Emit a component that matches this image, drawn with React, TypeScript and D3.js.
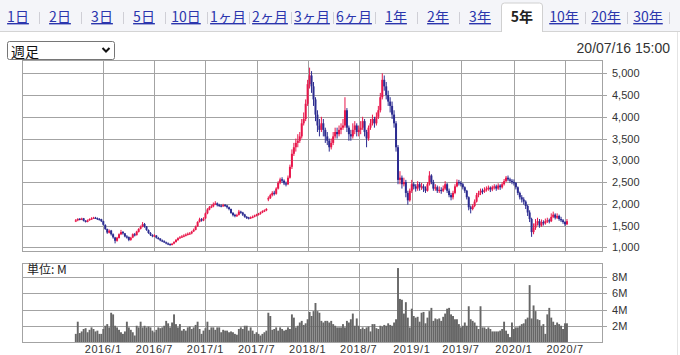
import React from 'react';
import * as d3 from 'd3';

// period tabs
const tabLabels = ['1日', '2日', '3日', '5日', '10日', '1ヶ月', '2ヶ月', '3ヶ月', '6ヶ月', '1年', '2年', '3年', '5年', '10年', '20年', '30年'];
const activeTab = '5年';
const spanLabel = '週足';
const stamp = '20/07/16 15:00';

// weekly candles, first week starts 2015-09-28
const firstWeek = new Date(2015, 8, 28);
const weekOpen = [
  1600, 1620, 1655, 1640, 1665, 1610, 1585, 1625, 1650, 1665,
  1680, 1670, 1650, 1645, 1600, 1510, 1420, 1335, 1385, 1300,
  1225, 1150, 1215, 1300, 1355, 1320, 1250, 1235, 1170, 1225,
  1300, 1280, 1355, 1425, 1470, 1535, 1480, 1395, 1330, 1285,
  1255, 1270, 1215, 1200, 1160, 1140, 1115, 1090, 1075, 1060,
  1085, 1120, 1165, 1215, 1230, 1250, 1265, 1295, 1310, 1320,
  1365, 1400, 1480, 1585, 1645, 1615, 1665, 1780, 1865, 1925,
  1940, 1990, 2010, 1975, 1960, 1950, 1975, 1960, 1920, 1880,
  1790, 1745, 1715, 1745, 1820, 1800, 1755, 1700, 1685, 1665,
  1695, 1700, 1735, 1750, 1770, 1800, 1835, 1850, 2100, 2130,
  2200, 2255, 2230, 2350, 2480, 2565, 2530, 2470, 2450, 2600,
  2850, 3150, 3300, 3400, 3450, 3550, 3850, 3950, 4300, 4750,
  4950, 4700, 4400, 4050, 3800, 3700, 3850, 3700, 3550, 3450,
  3300, 3400, 3550, 3650, 3600, 3700, 3750, 3800, 4150, 3750,
  3600, 3550, 3700, 3800, 3650, 3700, 3750, 3900, 3650, 3500,
  3750, 3850, 3950, 3850, 4000, 4150, 4450, 4850, 4700, 4500,
  4350, 4250, 4050, 3850, 3300, 2550, 2600, 2450, 2500, 2250,
  2080, 2300, 2450, 2400, 2350, 2450, 2380, 2400, 2350, 2300,
  2450, 2650, 2500, 2350, 2380, 2300, 2320, 2300, 2350, 2450,
  2300, 2200, 2150, 2250, 2400, 2500, 2480, 2450, 2380, 2300,
  2150, 1920, 1880, 1950, 2050, 2200, 2250, 2300, 2280, 2320,
  2350, 2370, 2330, 2380, 2400, 2350, 2420, 2380, 2450, 2520,
  2600, 2560, 2530, 2500, 2480, 2380, 2250, 2150, 2100, 2050,
  1950, 1800, 1650, 1350, 1450, 1550, 1600, 1500, 1580, 1550,
  1600, 1620, 1600, 1700, 1750, 1680, 1720, 1650, 1620, 1580,
  1530,
];
const weekHigh = [
  1650, 1670, 1670, 1680, 1675, 1625, 1640, 1665, 1690, 1700,
  1700, 1685, 1670, 1655, 1610, 1530, 1430, 1410, 1400, 1320,
  1240, 1240, 1320, 1400, 1370, 1330, 1280, 1250, 1240, 1320,
  1330, 1380, 1440, 1500, 1580, 1560, 1490, 1410, 1350, 1300,
  1300, 1280, 1240, 1210, 1180, 1160, 1130, 1110, 1090, 1100,
  1140, 1190, 1230, 1260, 1280, 1300, 1320, 1340, 1350, 1380,
  1430, 1500, 1600, 1680, 1670, 1690, 1800, 1900, 1950, 1980,
  2030, 2060, 2030, 2000, 1990, 2000, 1995, 1975, 1935, 1890,
  1810, 1770, 1770, 1860, 1840, 1815, 1770, 1720, 1700, 1710,
  1730, 1750, 1770, 1790, 1820, 1850, 1870, 1900, 2170, 2230,
  2290, 2300, 2380, 2520, 2600, 2610, 2560, 2510, 2650, 2900,
  3250, 3400, 3500, 3600, 3650, 3950, 4100, 4400, 4850, 5130,
  5050, 4800, 4450, 4150, 3950, 4000, 3950, 3750, 3650, 3500,
  3500, 3650, 3750, 3750, 3800, 3850, 3950, 4450, 4200, 3800,
  3700, 3850, 3900, 3850, 3800, 3900, 4000, 3950, 3700, 3800,
  3950, 4050, 4000, 4100, 4250, 4550, 5000, 4950, 4800, 4600,
  4450, 4350, 4150, 3900, 3350, 2750, 2650, 2600, 2550, 2300,
  2350, 2550, 2500, 2450, 2520, 2500, 2480, 2450, 2400, 2500,
  2750, 2680, 2550, 2450, 2420, 2400, 2380, 2420, 2520, 2480,
  2350, 2250, 2300, 2450, 2560, 2550, 2520, 2480, 2400, 2320,
  2170, 1960, 1990, 2100, 2250, 2300, 2350, 2350, 2380, 2400,
  2420, 2400, 2420, 2450, 2440, 2470, 2450, 2500, 2570, 2640,
  2650, 2600, 2570, 2560, 2500, 2400, 2280, 2200, 2150, 2080,
  1980, 1850, 1680, 1550, 1650, 1680, 1650, 1640, 1620, 1660,
  1680, 1660, 1780, 1820, 1780, 1780, 1750, 1700, 1650, 1600,
  1650,
];
const weekLow = [
  1580, 1600, 1620, 1625, 1595, 1570, 1575, 1610, 1640, 1650,
  1655, 1630, 1620, 1580, 1500, 1400, 1310, 1320, 1270, 1200,
  1090, 1130, 1200, 1280, 1290, 1230, 1200, 1140, 1150, 1210,
  1250, 1270, 1340, 1410, 1460, 1450, 1380, 1310, 1260, 1230,
  1240, 1200, 1180, 1140, 1120, 1100, 1070, 1050, 1040, 1045,
  1070, 1110, 1150, 1200, 1215, 1230, 1250, 1270, 1290, 1300,
  1350, 1390, 1470, 1570, 1590, 1600, 1650, 1760, 1850, 1900,
  1920, 1970, 1940, 1930, 1920, 1930, 1930, 1890, 1850, 1770,
  1710, 1690, 1700, 1730, 1770, 1720, 1680, 1650, 1640, 1650,
  1670, 1690, 1710, 1730, 1750, 1785, 1810, 1830, 2060, 2110,
  2170, 2190, 2210, 2330, 2450, 2480, 2430, 2400, 2430, 2580,
  2800, 3100, 3200, 3300, 3400, 3500, 3800, 3900, 4250, 4650,
  4550, 4250, 3900, 3650, 3550, 3650, 3550, 3400, 3350, 3200,
  3250, 3350, 3500, 3500, 3550, 3600, 3700, 3750, 3650, 3450,
  3450, 3500, 3600, 3550, 3550, 3600, 3700, 3550, 3300, 3450,
  3700, 3800, 3750, 3800, 3950, 4100, 4400, 4600, 4400, 4250,
  4100, 3950, 3750, 3200, 2450, 2450, 2350, 2400, 2150, 1980,
  2050, 2250, 2330, 2280, 2300, 2300, 2320, 2270, 2250, 2280,
  2420, 2450, 2300, 2300, 2250, 2250, 2230, 2270, 2320, 2250,
  2150, 2080, 2100, 2220, 2380, 2420, 2400, 2330, 2250, 2100,
  1850, 1780, 1850, 1920, 2030, 2150, 2200, 2220, 2250, 2280,
  2300, 2270, 2290, 2330, 2300, 2320, 2320, 2350, 2420, 2500,
  2520, 2480, 2450, 2420, 2330, 2200, 2100, 2030, 1980, 1880,
  1720, 1580, 1240, 1300, 1400, 1500, 1450, 1470, 1500, 1520,
  1560, 1550, 1580, 1670, 1640, 1650, 1610, 1580, 1540, 1490,
  1510,
];
const weekClose = [
  1620, 1650, 1640, 1660, 1610, 1590, 1620, 1650, 1660, 1680,
  1670, 1650, 1640, 1600, 1520, 1420, 1340, 1380, 1300, 1230,
  1150, 1220, 1300, 1350, 1320, 1250, 1230, 1170, 1220, 1300,
  1280, 1360, 1420, 1470, 1530, 1480, 1400, 1330, 1290, 1260,
  1270, 1220, 1200, 1160, 1140, 1120, 1090, 1070, 1060, 1080,
  1120, 1170, 1210, 1230, 1250, 1270, 1290, 1310, 1320, 1360,
  1400, 1480, 1580, 1640, 1620, 1660, 1780, 1870, 1920, 1940,
  1990, 2010, 1970, 1960, 1950, 1970, 1960, 1920, 1880, 1790,
  1740, 1720, 1740, 1820, 1800, 1750, 1700, 1680, 1670, 1690,
  1700, 1730, 1750, 1770, 1800, 1830, 1850, 1880, 2130, 2200,
  2250, 2230, 2350, 2480, 2560, 2530, 2470, 2450, 2600, 2850,
  3150, 3300, 3400, 3450, 3550, 3850, 3950, 4300, 4750, 4950,
  4700, 4400, 4050, 3800, 3700, 3850, 3700, 3550, 3450, 3300,
  3400, 3550, 3650, 3600, 3700, 3750, 3800, 4150, 3750, 3600,
  3550, 3700, 3800, 3650, 3700, 3750, 3900, 3650, 3500, 3750,
  3850, 3950, 3850, 4000, 4150, 4450, 4850, 4700, 4500, 4350,
  4250, 4050, 3850, 3300, 2550, 2600, 2450, 2500, 2250, 2080,
  2300, 2450, 2400, 2350, 2450, 2380, 2400, 2350, 2300, 2450,
  2650, 2500, 2350, 2380, 2300, 2320, 2300, 2350, 2450, 2300,
  2200, 2150, 2250, 2400, 2500, 2480, 2450, 2380, 2300, 2150,
  1920, 1880, 1950, 2050, 2200, 2250, 2300, 2280, 2320, 2350,
  2370, 2330, 2380, 2400, 2350, 2420, 2380, 2450, 2520, 2600,
  2560, 2530, 2500, 2480, 2380, 2250, 2150, 2100, 2050, 1950,
  1800, 1650, 1350, 1450, 1550, 1600, 1500, 1580, 1550, 1600,
  1620, 1600, 1700, 1750, 1680, 1720, 1650, 1620, 1580, 1530,
  1600,
];
// weekly volume, millions of shares
const weekVolume = [
  1.0, 2.5, 1.1, 1.3, 1.6, 1.7, 1.2, 1.5, 1.8, 1.6,
  1.3, 1.4, 1.0, 1.0, 1.6, 2.0, 2.2, 1.8, 3.6, 3.4,
  2.0, 1.8, 1.5, 1.2, 1.0, 1.3, 2.5, 1.8, 1.5, 1.2,
  0.8, 2.0, 1.8, 2.5, 1.8, 2.0, 1.8, 1.9, 1.8, 1.4,
  1.2, 1.5, 1.8, 1.7, 1.8, 2.0, 2.6, 2.3, 1.8, 2.4,
  3.4, 2.2, 1.8, 2.2, 1.4, 1.6, 1.4, 1.8, 1.9, 1.6,
  1.8, 2.1, 2.5, 1.6, 1.0, 1.4, 1.7, 2.5, 1.5, 1.8,
  1.8, 1.5, 1.8, 1.8, 1.2, 1.5, 1.4, 1.4, 1.2, 1.3,
  1.2, 1.0, 0.9, 1.6, 1.8, 1.6, 2.0, 2.0, 1.4, 1.8,
  1.4, 1.0, 1.2, 1.0, 0.8, 1.0, 1.2, 1.4, 3.6, 3.2,
  1.5, 1.6, 1.8, 1.4, 1.8, 1.6, 1.4, 1.5, 1.8, 1.6,
  3.4, 3.0, 1.8, 2.0, 2.4, 2.6, 2.1, 2.3, 2.8, 3.7,
  3.2, 3.8, 4.8, 3.8, 3.6, 2.6, 2.4, 2.6, 2.6, 2.4,
  2.6, 2.2, 2.0, 1.8, 1.8, 1.8, 2.2, 1.8, 2.6, 2.4,
  2.8, 3.5, 2.0, 2.9, 2.0, 1.6, 1.8, 1.6, 1.8, 1.9,
  1.3, 2.2, 2.2, 1.7, 1.6, 2.0, 1.9, 2.1, 2.0, 2.3,
  2.1, 2.0, 2.4, 2.8, 9.1, 5.3, 5.2, 3.5, 4.9, 3.0,
  1.8, 4.1, 3.2, 3.0, 3.1, 2.5, 3.6, 3.7, 2.3, 3.0,
  3.8, 4.2, 2.6, 2.9, 2.8, 2.9, 2.6, 3.1, 3.5, 4.1,
  4.2, 3.4, 3.2, 2.8, 2.8, 2.2, 1.8, 2.0, 2.4, 2.0,
  4.4, 2.8, 2.6, 2.4, 2.0, 1.6, 4.4, 1.8, 1.8, 1.6,
  1.8, 1.6, 1.3, 1.3, 1.3, 1.3, 1.4, 1.6, 2.5, 1.4,
  1.0, 0.6, 2.4, 1.6, 1.8, 1.8, 2.0, 2.2, 2.3, 2.8,
  3.0, 7.0, 2.9, 4.5, 3.8, 2.8, 2.7, 2.0, 2.2, 1.0,
  3.4, 4.2, 3.0, 2.5, 2.1, 2.4, 2.2, 2.0, 1.6, 2.3,
  2.3,
];

// axes
const priceTicks = [1000, 1500, 2000, 2500, 3000, 3500, 4000, 4500, 5000];
const volumeTicks = [2, 4, 6, 8];
const dateTicks = [
  new Date(2016, 0, 4), new Date(2016, 6, 4), new Date(2017, 0, 2), new Date(2017, 6, 3),
  new Date(2018, 0, 1), new Date(2018, 6, 2), new Date(2019, 0, 7), new Date(2019, 6, 1),
  new Date(2020, 0, 6), new Date(2020, 6, 6),
];
const dateLabels = ['2016/1', '2016/7', '2017/1', '2017/7', '2018/1', '2018/7', '2019/1', '2019/7', '2020/1', '2020/7'];

const UP = '#e8174b';
const DOWN = '#2b2b90';
const GRID = '#a3a3a3';
const LINK = '#2b35ad';
const JP = '"Noto Sans CJK JP", "Noto Sans", sans-serif';
const NUM = '"Liberation Sans", Arial, sans-serif';

const App = () => {
  const width = 680, height = 355;
  const plot = { left: 22, right: 602 };
  const pTop = 60, pBottom = 251;
  const vTop = 263, vBottom = 342;

  const x = d3.scaleTime()
    .domain([dateTicks[0], dateTicks[dateTicks.length - 1]])
    .range([103.3, 565]);
  const yP = d3.scaleLinear().domain([1000, 5000]).range([247.3, 73.3]);
  const yV = d3.scaleLinear().domain([0, 8]).range([vBottom, 277]);
  const fmt = d3.format(',');

  const tabX = d3.scaleBand().domain(tabLabels).range([-3, 669]);
  const bw = tabX.bandwidth();
  const ax = tabX(activeTab);

  const n = Math.min(weekOpen.length, weekHigh.length, weekLow.length, weekClose.length, weekVolume.length);
  const weeks = d3.range(n).map(i => ({
    date: d3.timeWeek.offset(firstWeek, i),
    o: weekOpen[i], h: weekHigh[i], l: weekLow[i], c: weekClose[i], v: weekVolume[i],
  }));

  const crisp = v => Math.round(v) + 0.5;

  return (
    <svg width={width} height={height} style={{ position: 'absolute', left: 0, top: 0, background: '#fff' }}>
      {/* tab bar */}
      <rect x={0} y={0} width={width} height={32} fill="#f4f5f9" />
      <line x1={0} x2={ax} y1={31.5} y2={31.5} stroke="#d4d4d4" />
      <line x1={ax + bw} x2={width} y1={31.5} y2={31.5} stroke="#d4d4d4" />
      <path d={`M${ax + 0.5},32 V6 Q${ax + 0.5},3 ${ax + 3.5},3 H${ax + bw - 3.5} Q${ax + bw - 0.5},3 ${ax + bw - 0.5},6 V32`}
        fill="#fff" stroke="#d0d0d0" />
      {tabLabels.map(t => {
        const cx = tabX(t) + bw / 2;
        const on = t === activeTab;
        return (
          <text key={t} x={cx} y={22} textAnchor="middle" fontFamily={JP} fontSize={14}
            fontWeight={on ? 'bold' : 'normal'} fill={on ? '#222' : LINK}
            style={on ? {} : { textDecoration: 'underline' }}>{t}</text>
        );
      })}
      {tabLabels.map((t, i) => {
        const sx = tabX(t) + bw;
        const next = tabLabels[i + 1];
        if (t === activeTab || next === activeTab) return null;
        return <line key={'s' + t} x1={sx + 0.5} x2={sx + 0.5} y1={12} y2={24} stroke="#cfcfd6" />;
      })}
      <line x1={677.5} x2={677.5} y1={32} y2={height} stroke="#e4e4e4" />

      <text x={670} y={53} textAnchor="end" fontFamily={NUM} fontSize={14} fill="#333">{stamp}</text>

      {/* price panel */}
      <g>
        {priceTicks.map(t => (
          <g key={t}>
            <line x1={plot.left} x2={plot.right + 5} y1={crisp(yP(t))} y2={crisp(yP(t))} stroke={GRID} />
            <text x={612} y={yP(t) + 4} fontFamily={NUM} fontSize={11} fill="#333">{fmt(t)}</text>
          </g>
        ))}
        {dateTicks.map((d, i) => (
          <line key={i} x1={crisp(x(d))} x2={crisp(x(d))} y1={pTop} y2={pBottom} stroke={GRID} />
        ))}
        <rect x={plot.left + 0.5} y={pTop + 0.5} width={plot.right - plot.left} height={pBottom - pTop} fill="none" stroke={GRID} />
        {weeks.map((w, i) => {
          const cx = x(w.date);
          const col = w.c >= w.o ? UP : DOWN;
          const top = yP(Math.max(w.o, w.c));
          const bot = yP(Math.min(w.o, w.c));
          return (
            <g key={i}>
              <line x1={cx} x2={cx} y1={yP(w.h)} y2={yP(w.l)} stroke={col} strokeWidth={1} />
              <rect x={cx - 1} y={top} width={2} height={Math.max(bot - top, 1.2)} fill={col} />
            </g>
          );
        })}
      </g>

      {/* volume panel */}
      <g>
        {volumeTicks.map(t => (
          <g key={t}>
            <line x1={plot.left} x2={plot.right + 5} y1={crisp(yV(t))} y2={crisp(yV(t))} stroke={GRID} />
            <text x={612} y={yV(t) + 4} fontFamily={NUM} fontSize={11} fill="#333">{t}M</text>
          </g>
        ))}
        {dateTicks.map((d, i) => (
          <g key={i}>
            <line x1={crisp(x(d))} x2={crisp(x(d))} y1={vTop} y2={vBottom} stroke={GRID} />
            <text x={x(d)} y={353} textAnchor="middle" fontFamily={NUM} fontSize={11} letterSpacing={0.6} fill="#333">{dateLabels[i]}</text>
          </g>
        ))}
        {weeks.map((w, i) => (
          <rect key={i} x={x(w.date) - 0.95} y={yV(w.v)} width={1.9} height={vBottom - yV(w.v)} fill="#666" />
        ))}
        <rect x={plot.left + 0.5} y={vTop + 0.5} width={plot.right - plot.left} height={vBottom - vTop} fill="none" stroke={GRID} />
        <text x={27} y={274} fontFamily={JP} fontSize={12} fill="#222">単位: M</text>
      </g>

      {/* span selector */}
      <rect x={7.5} y={41.5} width={107} height={18} rx={2} fill="#fff" stroke="#767676" />
      <text x={11} y={57} fontFamily={JP} fontSize={14} fill="#111">{spanLabel}</text>
      <path d="M102.5,48 L106,51.5 L109.5,48" fill="none" stroke="#111" strokeWidth={2} />
    </svg>
  );
};

export default App;
